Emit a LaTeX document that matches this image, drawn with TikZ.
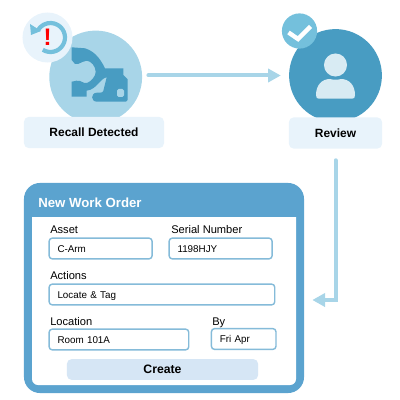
\documentclass[tikz,border=0pt]{standalone}
\usepackage{fontspec}
\setmainfont{Liberation Sans}
\usetikzlibrary{arrows.meta, positioning}
\definecolor{skylight}{HTML}{A8D5E8}
\definecolor{skymid}{HTML}{74C0DC}
\definecolor{skydark}{HTML}{489CC2}
\definecolor{personpale}{HTML}{D8EBF3}
\definecolor{panelblue}{HTML}{5BA3CF}
\definecolor{fieldline}{HTML}{85BBD9}
\definecolor{tagblue}{HTML}{E8F3FB}
\definecolor{btnblue}{HTML}{D6E6F5}
\tikzset{
    stepcircle/.style={circle, minimum size=2.32cm, inner sep=0pt},
    tagbox/.style={rectangle, fill=tagblue, rounded corners=0.12cm, inner sep=0pt, minimum height=0.78cm, font=\fontsize{8.5}{10}\selectfont\bfseries},
    flow/.style={draw=skylight, line width=0.1cm, line cap=round, -{Triangle[length=0.32cm, width=0.33cm]}},
    fieldbox/.style={draw=fieldline, fill=white, line width=1pt, rounded corners=0.08cm, anchor=west, minimum height=0.52cm, inner sep=0pt, inner xsep=0.21cm, text height=0.22cm, text depth=0.045cm, align=left, font=\fontsize{7}{8.5}\selectfont},
    fieldlabel/.style={anchor=base west, inner sep=0pt, font=\fontsize{7.9}{9.5}\selectfont}
}
\begin{document}
\begin{tikzpicture}[x=0.025cm, y=-0.025cm]
    \useasboundingbox (0,0) rectangle (400,400);

    % Recall step
    \node[stepcircle, fill=skylight] (recall) at (95.7,77) {};
    \fill[skydark, line join=round] (71.7,47.3) -- (85,48.3) .. controls (93,51) and (99,56) .. (105,68.3) -- (123.3,68.3) -- (123.3,75) -- (127.7,79.3) -- (127.7,100) .. controls (127.7,101) and (127,101.7) .. (126,101.7) -- (97,101.7) .. controls (90.5,101.7) and (90.5,92.7) .. (97,92.7) -- (100,92.7) .. controls (102,92.7) and (103,92) .. (103.3,91) -- (106.7,77.3) .. controls (103,78) and (101,81) .. (98,84) .. controls (95,87) and (92,90) .. (86.7,90.7) -- (86.7,96.7) -- (71.7,96.7) -- (71.7,81.7) .. controls (75,80.5) and (78,80.5) .. (80,81) .. controls (83,82.5) and (85,83.5) .. (87,83) .. controls (91,81.5) and (96,76) .. (95.7,71.7) .. controls (95.5,66) and (91,61) .. (86.7,60.7) .. controls (84,60.7) and (81,63) .. (78,64) -- (75,64) -- (71.7,60) -- cycle;
    \fill[skylight, rounded corners=0.04cm] (117,89) rectangle (124,97);
    \node[tagbox, minimum width=3.5cm] (recalltag) at (94,132.5) {Recall Detected};

    % Recall badge
    \node[circle, fill=tagblue, minimum size=1.25cm, inner sep=0pt] (alertbadge) at (47.5,37.5) {};
    \draw[skymid, line width=0.105cm] (42.8,49.8) arc[start angle=-122, end angle=150, radius=0.3625cm];
    \fill[skymid] (30,24) -- (31,35) -- (41,31) -- cycle;
    \node[text=red, inner sep=0pt, font=\fontsize{17}{17}\selectfont\bfseries] (alertmark) at (47.7,37.5) {!};

    % Review step
    \node[stepcircle, fill=skydark] (review) at (335.5,75.5) {};
    \fill[personpale] (335.5,65) circle[radius=0.288cm];
    \fill[personpale] (316,95) .. controls (316,85) and (322,79) .. (330,79) .. controls (333,80) and (338,80) .. (341,79) .. controls (349,79) and (355,85) .. (355,95) .. controls (355,98) and (354,98.7) .. (352,98.7) -- (319,98.7) .. controls (317,98.7) and (316,98) .. (316,95) -- cycle;
    \node[stepcircle, minimum size=0.88cm, fill=skymid] (checkbadge) at (299.5,31) {};
    \draw[white, line width=0.11cm] (288.5,32.5) -- (298,39) -- (310.5,26.5);
    \node[tagbox, minimum width=2.33cm] (reviewtag) at (335.5,133) {Review};

    % New Work Order form
    \node[fill=panelblue, rounded corners=0.4cm, minimum width=7cm, minimum height=5.25cm, inner sep=0pt] (panel) at (164,288) {};
    \fill[white] (32,217) -- (296,217) [rounded corners=0.15cm] -- (296,385) -- (32,385) [sharp corners] -- cycle;
    \node[anchor=west, inner sep=0pt, text=white, font=\fontsize{9.4}{11}\selectfont\bfseries] (formtitle) at (38,203) {New Work Order};

    \node[fieldlabel] (assetlabel) at (50,233.5) {Asset};
    \node[fieldbox, text width=2.155cm] (asset) at (48.4,248.5) {C-Arm};
    \node[fieldlabel] (seriallabel) at (171,233.5) {Serial Number};
    \node[fieldbox, text width=2.155cm] (serial) at (168.4,248.5) {1198HJY};
    \node[fieldlabel] (actionslabel) at (50,279.3) {Actions};
    \node[fieldbox, text width=5.22cm] (actions) at (48.4,294.5) {Locate \& Tag};
    \node[fieldlabel] (locationlabel) at (50,325) {Location};
    \node[fieldbox, text width=3.07cm] (location) at (48.4,339.5) {Room 101A};
    \node[fieldlabel] (bylabel) at (212,325) {By};
    \node[fieldbox, text width=1.195cm] (by) at (210.7,339) {Fri Apr};
    \node[tagbox, fill=btnblue, minimum width=4.78cm, minimum height=0.52cm, font=\fontsize{8.7}{10}\selectfont\bfseries] (create) at (162.5,369.5) {Create};

    % connectors
    \coordinate (formin) at (panel.east |- 0,300);
    \draw[flow, shorten <=0.15cm, shorten >=0.2cm] (recall.east |- review) -- (review);
    \draw[flow, shorten <=0.285cm, shorten >=0.2cm] (reviewtag.south) |- (formin);
\end{tikzpicture}
\end{document}
